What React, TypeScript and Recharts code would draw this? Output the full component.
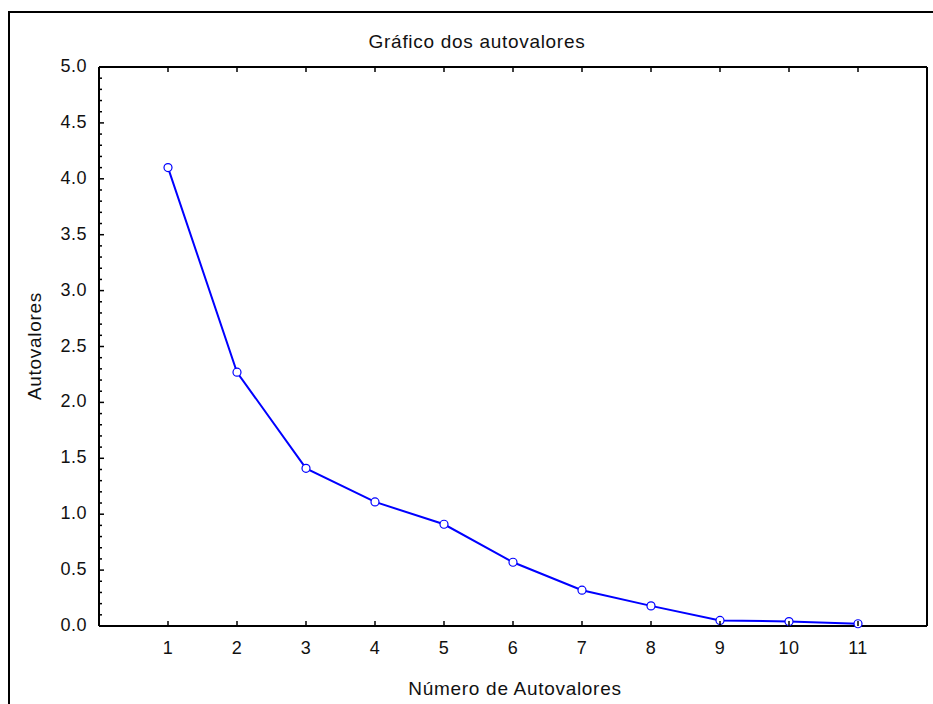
import React from 'react';
import { LineChart, Line, XAxis, YAxis, Customized } from 'recharts';

const components = [1, 2, 3, 4, 5, 6, 7, 8, 9, 10, 11];
const eigenvalues = [4.1, 2.27, 1.41, 1.11, 0.91, 0.57, 0.32, 0.18, 0.05, 0.04, 0.02];
const xTicks = [1, 2, 3, 4, 5, 6, 7, 8, 9, 10, 11];
const yTicks = [
  0, 0.1, 0.2, 0.3, 0.4, 0.5, 0.6, 0.7, 0.8, 0.9,
  1, 1.1, 1.2, 1.3, 1.4, 1.5, 1.6, 1.7, 1.8, 1.9,
  2, 2.1, 2.2, 2.3, 2.4, 2.5, 2.6, 2.7, 2.8, 2.9,
  3, 3.1, 3.2, 3.3, 3.4, 3.5, 3.6, 3.7, 3.8, 3.9,
  4, 4.1, 4.2, 4.3, 4.4, 4.5, 4.6, 4.7, 4.8, 4.9, 5,
];
const title = 'Gráfico dos autovalores';
const xLabel = 'Número de Autovalores';
const yLabel = 'Autovalores';

const data = components.map((n, i) => ({ n, v: eigenvalues[i] }));

const FONT = '"Liberation Sans", Arial, sans-serif';
const isMajor = (v: number) => Math.abs(v * 2 - Math.round(v * 2)) < 1e-6;

const LeftTick = (props: any) => {
  const { x, y, payload } = props;
  const v = payload.value as number;
  const major = isMajor(v);
  return (
    <g>
      <line x1={x} y1={y} x2={x + (major ? 5 : 3)} y2={y} stroke="#000" strokeWidth={1.5} />
      {major && (
        <text x={x - 12} y={y - 1} textAnchor="end" dominantBaseline="central" fontSize={18} letterSpacing={0.5} fill="#111" fontFamily={FONT}>
          {v.toFixed(1)}
        </text>
      )}
    </g>
  );
};

const RightTick = (props: any) => {
  const { x, y, payload } = props;
  const v = payload.value as number;
  const major = isMajor(v);
  return <line x1={x} y1={y} x2={x - (major ? 5 : 3)} y2={y} stroke="#000" strokeWidth={1.5} />;
};

const BottomTick = (props: any) => {
  const { x, y, payload } = props;
  return (
    <g>
      <line x1={x} y1={y} x2={x} y2={y - 5} stroke="#000" strokeWidth={1.5} />
      <text x={x} y={y + 22} textAnchor="middle" dominantBaseline="central" fontSize={18} letterSpacing={0.5} fill="#111" fontFamily={FONT}>
        {payload.value}
      </text>
    </g>
  );
};

const TopTick = (props: any) => {
  const { x, y } = props;
  return <line x1={x} y1={y} x2={x} y2={y + 5} stroke="#000" strokeWidth={1.5} />;
};

const Labels = () => (
  <g fontFamily={FONT} fill="#111">
    <text x={477} y={41} textAnchor="middle" dominantBaseline="central" fontSize={19} letterSpacing={0.7}>
      {title}
    </text>
    <text x={515} y={688} textAnchor="middle" dominantBaseline="central" fontSize={19} letterSpacing={0.7}>
      {xLabel}
    </text>
    <text x={34} y={346} textAnchor="middle" dominantBaseline="central" fontSize={19} letterSpacing={0.7} transform="rotate(-90 34 346)">
      {yLabel}
    </text>
  </g>
);

export default function App() {
  return (
    <div style={{ position: 'absolute', left: 0, top: 0, width: 933, height: 704, background: '#fff', overflow: 'hidden' }}>
      <div
        style={{
          position: 'absolute',
          left: 8,
          top: 11,
          width: 1000,
          height: 800,
          borderLeft: '2px solid #000',
          borderTop: '2px solid #000',
        }}
      />
      <div style={{ position: 'absolute', left: 0, top: 0 }}>
        <LineChart width={933} height={704} data={data} margin={{ top: 57, right: 0, bottom: 48, left: 39 }}>
          <XAxis
            dataKey="n"
            type="number"
            domain={[0, 12]}
            ticks={xTicks}
            interval={0}
            height={30}
            tickSize={0}
            tickMargin={0}
            tickLine={false}
            axisLine={{ stroke: '#000', strokeWidth: 2 }}
            tick={<BottomTick />}
          />
          <XAxis
            xAxisId="top"
            orientation="top"
            dataKey="n"
            type="number"
            domain={[0, 12]}
            ticks={xTicks}
            interval={0}
            height={10}
            tickSize={0}
            tickMargin={0}
            tickLine={false}
            axisLine={{ stroke: '#000', strokeWidth: 2 }}
            tick={<TopTick />}
          />
          <YAxis
            type="number"
            domain={[0, 5]}
            ticks={yTicks}
            interval={0}
            width={60}
            tickSize={0}
            tickMargin={0}
            tickLine={false}
            axisLine={{ stroke: '#000', strokeWidth: 2 }}
            tick={<LeftTick />}
          />
          <YAxis
            yAxisId="right"
            orientation="right"
            type="number"
            domain={[0, 5]}
            ticks={yTicks}
            interval={0}
            width={6}
            tickSize={0}
            tickMargin={0}
            tickLine={false}
            axisLine={{ stroke: '#000', strokeWidth: 2 }}
            tick={<RightTick />}
          />
          <Line
            dataKey="v"
            stroke="#0000ff"
            strokeWidth={2}
            isAnimationActive={false}
            dot={{ r: 4, stroke: '#0000ff', strokeWidth: 1.2, fill: '#fff' }}
          />
          <Customized component={Labels} />
        </LineChart>
      </div>
    </div>
  );
}
